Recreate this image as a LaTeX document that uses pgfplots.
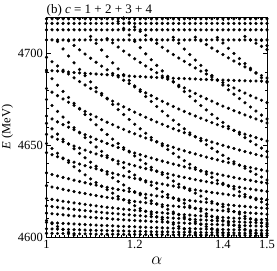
\documentclass[border=0pt]{standalone}
\usepackage{pgfplots}
\pgfplotsset{compat=1.18}
\usepackage{pgfplotstable}
\usepackage{fontspec}
\setmainfont{Liberation Serif}
\pgfplotsset{dots/.style={only marks, mark=*, mark size=1.4pt, black, mark options={draw=none, fill=black}}}
\pgfplotstableread{
a t1 t2 t3 t5
1 4719 4716.5 4713 4707.5
1.0125 4719 4716.5 4713 4707.5
1.025 4719 4716.5 4713 4707.5
1.0375 4719 4716.5 4713 4707.5
1.05 4719 4716.5 4713 4707.5
1.0625 4719 4716.5 4713 4707.5
1.075 4719 4716.5 4713 4707.5
1.0875 4719 4716.5 4713 4707.5
1.1 4719 4716.5 4713 4707.5
1.1125 4719 4716.5 4713 4707.5
1.125 4719 4716.5 4713 4707.5
1.1375 4719 4716.5 4713 4707.5
1.15 4719 4716.5 4713 4707.5
1.1625 4719 4716.5 4713 4707.5
1.175 4719 4716.5 4713 4707.5
1.1875 4719 4716.5 4713 4707.5
1.2 4719 4716.5 4713 4707.5
1.2125 4719 4716.5 4713 4707.5
1.225 4719 4716.5 4713 4707.5
1.2375 4719 4716.5 4713 4707.5
1.25 4719 4716.5 4713 4707.5
1.2625 4719 4716.5 4713 4707.5
1.275 4719 4716.5 4713 4707.5
1.2875 4719 4716.5 4713 4707.5
1.3 4719 4716.5 4713 4707.5
1.3125 4719 4716.5 4713 4707.5
1.325 4719 4716.5 4713 4707.5
1.3375 4719 4716.5 4713 4707.5
1.35 4719 4716.5 4713 4707.5
1.3625 4719 4716.5 4713 4707.5
1.375 4719 4716.5 4713 4707.5
1.3875 4719 4716.5 4713 4707.5
1.4 4719 4716.5 4713 4707.5
1.4125 4719 4716.5 4713 4707.5
1.425 4719 4716.5 4713 4707.5
1.4375 4719 4716.5 4713 4707.5
1.45 4719 4716.5 4713 4707.5
1.4625 4719 4716.5 4713 4707.5
1.475 4719 4716.5 4713 4707.5
1.4875 4719 4716.5 4713 4707.5
1.5 4719 4716.5 4713 4707.5
}\bands
\begin{document}
\begin{tikzpicture}
\begin{axis}[
  scale only axis,
  width=220.5pt, height=220pt,
  xmin=1, xmax=1.5, ymin=4600, ymax=4720,
  xtick={1,1.1,1.2,1.3,1.4,1.5},
  xticklabels={1,,1.2,,1.4,1.5},
  minor x tick num=9,
  ytick={4600,4650,4700},
  yticklabels={4600,4650,4700},
  minor y tick num=4,
  tick pos=both,
  tick align=inside,
  major tick length=4pt, minor tick length=2pt,
  every tick/.style={black, line width=0.5pt},
  axis line style={line width=0.6pt},
  tick label style={font=\fontsize{12.5}{12.5}\selectfont},
  ylabel={\textit{E} (MeV)},
  ylabel style={font=\fontsize{12.5}{12.5}\selectfont, yshift=-2pt},
  xlabel={$\alpha$},
  xlabel style={font=\fontsize{17}{17}\selectfont, yshift=-1pt},
  every axis title shift=0pt,
  title={(b) \textit{c} = 1 + 2 + 3 + 4},
  title style={at={(axis description cs:0,1)}, anchor=base west, yshift=3.5pt, inner sep=0pt, font=\fontsize{13}{13}\selectfont},
]
% flat bands
\addplot[dots] table[x=a,y=t1] {\bands};
\addplot[dots] table[x=a,y=t2] {\bands};
\addplot[dots] table[x=a,y=t3] {\bands};
\addplot[dots] table[x=a,y=t5] {\bands};
% family A
\addplot[dots] coordinates {(1,4602.0)(1.0125,4602.0)(1.025,4601.9)(1.0375,4601.9)(1.05,4601.8)(1.0625,4601.8)(1.075,4601.7)(1.0875,4601.7)(1.1,4601.7)(1.1125,4601.6)(1.125,4601.6)(1.1375,4601.5)(1.15,4601.5)(1.1625,4601.5)(1.175,4601.4)(1.1875,4601.4)(1.2,4601.4)(1.2125,4601.4)(1.225,4601.3)(1.2375,4601.3)(1.25,4601.3)(1.2625,4601.3)(1.275,4601.2)(1.2875,4601.2)(1.3,4601.2)(1.3125,4601.2)(1.325,4601.1)(1.3375,4601.1)(1.35,4601.1)(1.3625,4601.1)(1.375,4601.1)(1.3875,4601.0)(1.4,4601.0)(1.4125,4601.0)(1.425,4601.0)(1.4375,4601.0)(1.45,4601.0)(1.4625,4600.9)(1.475,4600.9)(1.4875,4600.9)(1.5,4600.9)};
\addplot[dots] coordinates {(1,4604.5)(1.0125,4604.4)(1.025,4604.3)(1.0375,4604.2)(1.05,4604.1)(1.0625,4604.0)(1.075,4603.9)(1.0875,4603.8)(1.1,4603.7)(1.1125,4603.6)(1.125,4603.6)(1.1375,4603.5)(1.15,4603.4)(1.1625,4603.3)(1.175,4603.3)(1.1875,4603.2)(1.2,4603.1)(1.2125,4603.1)(1.225,4603.0)(1.2375,4602.9)(1.25,4602.9)(1.2625,4602.8)(1.275,4602.8)(1.2875,4602.7)(1.3,4602.7)(1.3125,4602.6)(1.325,4602.6)(1.3375,4602.5)(1.35,4602.5)(1.3625,4602.4)(1.375,4602.4)(1.3875,4602.3)(1.4,4602.3)(1.4125,4602.3)(1.425,4602.2)(1.4375,4602.2)(1.45,4602.1)(1.4625,4602.1)(1.475,4602.1)(1.4875,4602.0)(1.5,4602.0)};
\addplot[dots] coordinates {(1,4608.0)(1.0125,4607.8)(1.025,4607.6)(1.0375,4607.4)(1.05,4607.3)(1.0625,4607.1)(1.075,4606.9)(1.0875,4606.8)(1.1,4606.6)(1.1125,4606.5)(1.125,4606.3)(1.1375,4606.2)(1.15,4606.1)(1.1625,4605.9)(1.175,4605.8)(1.1875,4605.7)(1.2,4605.6)(1.2125,4605.4)(1.225,4605.3)(1.2375,4605.2)(1.25,4605.1)(1.2625,4605.0)(1.275,4604.9)(1.2875,4604.8)(1.3,4604.7)(1.3125,4604.6)(1.325,4604.6)(1.3375,4604.5)(1.35,4604.4)(1.3625,4604.3)(1.375,4604.2)(1.3875,4604.2)(1.4,4604.1)(1.4125,4604.0)(1.425,4603.9)(1.4375,4603.9)(1.45,4603.8)(1.4625,4603.7)(1.475,4603.7)(1.4875,4603.6)(1.5,4603.6)};
\addplot[dots] coordinates {(1,4613.0)(1.0125,4612.7)(1.025,4612.4)(1.0375,4612.1)(1.05,4611.8)(1.0625,4611.5)(1.075,4611.3)(1.0875,4611.0)(1.1,4610.7)(1.1125,4610.5)(1.125,4610.3)(1.1375,4610.1)(1.15,4609.8)(1.1625,4609.6)(1.175,4609.4)(1.1875,4609.2)(1.2,4609.0)(1.2125,4608.8)(1.225,4608.7)(1.2375,4608.5)(1.25,4608.3)(1.2625,4608.2)(1.275,4608.0)(1.2875,4607.8)(1.3,4607.7)(1.3125,4607.6)(1.325,4607.4)(1.3375,4607.3)(1.35,4607.1)(1.3625,4607.0)(1.375,4606.9)(1.3875,4606.8)(1.4,4606.6)(1.4125,4606.5)(1.425,4606.4)(1.4375,4606.3)(1.45,4606.2)(1.4625,4606.1)(1.475,4606.0)(1.4875,4605.9)(1.5,4605.8)};
\addplot[dots] coordinates {(1,4617.0)(1.0125,4616.6)(1.025,4616.2)(1.0375,4615.8)(1.05,4615.4)(1.0625,4615.1)(1.075,4614.7)(1.0875,4614.4)(1.1,4614.1)(1.1125,4613.7)(1.125,4613.4)(1.1375,4613.1)(1.15,4612.9)(1.1625,4612.6)(1.175,4612.3)(1.1875,4612.1)(1.2,4611.8)(1.2125,4611.6)(1.225,4611.3)(1.2375,4611.1)(1.25,4610.9)(1.2625,4610.7)(1.275,4610.5)(1.2875,4610.3)(1.3,4610.1)(1.3125,4609.9)(1.325,4609.7)(1.3375,4609.5)(1.35,4609.3)(1.3625,4609.2)(1.375,4609.0)(1.3875,4608.8)(1.4,4608.7)(1.4125,4608.5)(1.425,4608.4)(1.4375,4608.2)(1.45,4608.1)(1.4625,4608.0)(1.475,4607.8)(1.4875,4607.7)(1.5,4607.6)};
\addplot[dots] coordinates {(1,4621.0)(1.0125,4620.5)(1.025,4620.0)(1.0375,4619.5)(1.05,4619.1)(1.0625,4618.6)(1.075,4618.2)(1.0875,4617.8)(1.1,4617.4)(1.1125,4617.0)(1.125,4616.6)(1.1375,4616.2)(1.15,4615.9)(1.1625,4615.5)(1.175,4615.2)(1.1875,4614.9)(1.2,4614.6)(1.2125,4614.3)(1.225,4614.0)(1.2375,4613.7)(1.25,4613.4)(1.2625,4613.2)(1.275,4612.9)(1.2875,4612.7)(1.3,4612.4)(1.3125,4612.2)(1.325,4612.0)(1.3375,4611.7)(1.35,4611.5)(1.3625,4611.3)(1.375,4611.1)(1.3875,4610.9)(1.4,4610.7)(1.4125,4610.5)(1.425,4610.3)(1.4375,4610.2)(1.45,4610.0)(1.4625,4609.8)(1.475,4609.7)(1.4875,4609.5)(1.5,4609.3)};
\addplot[dots] coordinates {(1,4628.0)(1.0125,4627.3)(1.025,4626.7)(1.0375,4626.0)(1.05,4625.4)(1.0625,4624.8)(1.075,4624.2)(1.0875,4623.7)(1.1,4623.1)(1.1125,4622.6)(1.125,4622.1)(1.1375,4621.6)(1.15,4621.2)(1.1625,4620.7)(1.175,4620.3)(1.1875,4619.9)(1.2,4619.4)(1.2125,4619.1)(1.225,4618.7)(1.2375,4618.3)(1.25,4617.9)(1.2625,4617.6)(1.275,4617.2)(1.2875,4616.9)(1.3,4616.6)(1.3125,4616.3)(1.325,4616.0)(1.3375,4615.7)(1.35,4615.4)(1.3625,4615.1)(1.375,4614.8)(1.3875,4614.5)(1.4,4614.3)(1.4125,4614.0)(1.425,4613.8)(1.4375,4613.6)(1.45,4613.3)(1.4625,4613.1)(1.475,4612.9)(1.4875,4612.7)(1.5,4612.4)};
\addplot[dots] coordinates {(1,4635.0)(1.0125,4634.1)(1.025,4633.3)(1.0375,4632.5)(1.05,4631.8)(1.0625,4631.0)(1.075,4630.3)(1.0875,4629.6)(1.1,4628.9)(1.1125,4628.3)(1.125,4627.7)(1.1375,4627.1)(1.15,4626.5)(1.1625,4625.9)(1.175,4625.4)(1.1875,4624.8)(1.2,4624.3)(1.2125,4623.8)(1.225,4623.3)(1.2375,4622.9)(1.25,4622.4)(1.2625,4622.0)(1.275,4621.5)(1.2875,4621.1)(1.3,4620.7)(1.3125,4620.3)(1.325,4619.9)(1.3375,4619.6)(1.35,4619.2)(1.3625,4618.9)(1.375,4618.5)(1.3875,4618.2)(1.4,4617.9)(1.4125,4617.5)(1.425,4617.2)(1.4375,4616.9)(1.45,4616.7)(1.4625,4616.4)(1.475,4616.1)(1.4875,4615.8)(1.5,4615.6)};
\addplot[dots] coordinates {(1,4646.0)(1.0125,4644.9)(1.025,4643.8)(1.0375,4642.7)(1.05,4641.7)(1.0625,4640.8)(1.075,4639.8)(1.0875,4638.9)(1.1,4638.0)(1.1125,4637.2)(1.125,4636.4)(1.1375,4635.6)(1.15,4634.8)(1.1625,4634.0)(1.175,4633.3)(1.1875,4632.6)(1.2,4631.9)(1.2125,4631.3)(1.225,4630.7)(1.2375,4630.0)(1.25,4629.4)(1.2625,4628.9)(1.275,4628.3)(1.2875,4627.8)(1.3,4627.2)(1.3125,4626.7)(1.325,4626.2)(1.3375,4625.7)(1.35,4625.2)(1.3625,4624.8)(1.375,4624.3)(1.3875,4623.9)(1.4,4623.5)(1.4125,4623.1)(1.425,4622.7)(1.4375,4622.3)(1.45,4621.9)(1.4625,4621.5)(1.475,4621.1)(1.4875,4620.8)(1.5,4620.4)};
\addplot[dots] coordinates {(1,4656.0)(1.0125,4654.6)(1.025,4653.3)(1.0375,4652.0)(1.05,4650.8)(1.0625,4649.6)(1.075,4648.5)(1.0875,4647.4)(1.1,4646.3)(1.1125,4645.3)(1.125,4644.3)(1.1375,4643.3)(1.15,4642.3)(1.1625,4641.4)(1.175,4640.6)(1.1875,4639.7)(1.2,4638.9)(1.2125,4638.1)(1.225,4637.3)(1.2375,4636.6)(1.25,4635.8)(1.2625,4635.1)(1.275,4634.5)(1.2875,4633.8)(1.3,4633.1)(1.3125,4632.5)(1.325,4631.9)(1.3375,4631.3)(1.35,4630.7)(1.3625,4630.2)(1.375,4629.6)(1.3875,4629.1)(1.4,4628.6)(1.4125,4628.1)(1.425,4627.6)(1.4375,4627.1)(1.45,4626.6)(1.4625,4626.2)(1.475,4625.7)(1.4875,4625.3)(1.5,4624.9)};
\addplot[dots] coordinates {(1,4666.0)(1.0125,4664.4)(1.025,4662.8)(1.0375,4661.3)(1.05,4659.9)(1.0625,4658.5)(1.075,4657.1)(1.0875,4655.8)(1.1,4654.6)(1.1125,4653.3)(1.125,4652.2)(1.1375,4651.0)(1.15,4649.9)(1.1625,4648.8)(1.175,4647.8)(1.1875,4646.8)(1.2,4645.8)(1.2125,4644.9)(1.225,4644.0)(1.2375,4643.1)(1.25,4642.2)(1.2625,4641.4)(1.275,4640.6)(1.2875,4639.8)(1.3,4639.1)(1.3125,4638.3)(1.325,4637.6)(1.3375,4636.9)(1.35,4636.2)(1.3625,4635.6)(1.375,4634.9)(1.3875,4634.3)(1.4,4633.7)(1.4125,4633.1)(1.425,4632.5)(1.4375,4631.9)(1.45,4631.4)(1.4625,4630.9)(1.475,4630.3)(1.4875,4629.8)(1.5,4629.3)};
\addplot[dots] coordinates {(1,4681.0)(1.0125,4679.0)(1.025,4677.1)(1.0375,4675.3)(1.05,4673.5)(1.0625,4671.8)(1.075,4670.1)(1.0875,4668.5)(1.1,4666.9)(1.1125,4665.5)(1.125,4664.0)(1.1375,4662.6)(1.15,4661.3)(1.1625,4659.9)(1.175,4658.7)(1.1875,4657.4)(1.2,4656.3)(1.2125,4655.1)(1.225,4654.0)(1.2375,4652.9)(1.25,4651.8)(1.2625,4650.8)(1.275,4649.8)(1.2875,4648.9)(1.3,4647.9)(1.3125,4647.0)(1.325,4646.1)(1.3375,4645.3)(1.35,4644.4)(1.3625,4643.6)(1.375,4642.8)(1.3875,4642.1)(1.4,4641.3)(1.4125,4640.6)(1.425,4639.9)(1.4375,4639.2)(1.45,4638.5)(1.4625,4637.9)(1.475,4637.2)(1.4875,4636.6)(1.5,4636.0)};
\addplot[dots] coordinates {(1,4698.0)(1.0125,4695.6)(1.025,4693.3)(1.0375,4691.0)(1.05,4688.9)(1.0625,4686.8)(1.075,4684.8)(1.0875,4682.9)(1.1,4681.0)(1.1125,4679.2)(1.125,4677.4)(1.1375,4675.7)(1.15,4674.1)(1.1625,4672.5)(1.175,4671.0)(1.1875,4669.5)(1.2,4668.1)(1.2125,4666.7)(1.225,4665.3)(1.2375,4664.0)(1.25,4662.7)(1.2625,4661.5)(1.275,4660.3)(1.2875,4659.1)(1.3,4658.0)(1.3125,4656.9)(1.325,4655.8)(1.3375,4654.8)(1.35,4653.8)(1.3625,4652.8)(1.375,4651.8)(1.3875,4650.9)(1.4,4650.0)(1.4125,4649.1)(1.425,4648.3)(1.4375,4647.4)(1.45,4646.6)(1.4625,4645.8)(1.475,4645.0)(1.4875,4644.3)(1.5,4643.6)};
\addplot[dots] coordinates {(1.05,4707.0)(1.0625,4704.5)(1.075,4702.1)(1.0875,4699.8)(1.1,4697.5)(1.1125,4695.3)(1.125,4693.2)(1.1375,4691.2)(1.15,4689.2)(1.1625,4687.3)(1.175,4685.5)(1.1875,4683.7)(1.2,4681.9)(1.2125,4680.3)(1.225,4678.6)(1.2375,4677.1)(1.25,4675.5)(1.2625,4674.0)(1.275,4672.6)(1.2875,4671.2)(1.3,4669.8)(1.3125,4668.5)(1.325,4667.2)(1.3375,4666.0)(1.35,4664.8)(1.3625,4663.6)(1.375,4662.4)(1.3875,4661.3)(1.4,4660.2)(1.4125,4659.1)(1.425,4658.1)(1.4375,4657.1)(1.45,4656.1)(1.4625,4655.2)(1.475,4654.2)(1.4875,4653.3)(1.5,4652.4)};
\addplot[dots] coordinates {(1.1375,4708.2)(1.15,4705.9)(1.1625,4703.6)(1.175,4701.4)(1.1875,4699.3)(1.2,4697.2)(1.2125,4695.2)(1.225,4693.3)(1.2375,4691.4)(1.25,4689.6)(1.2625,4687.8)(1.275,4686.1)(1.2875,4684.5)(1.3,4682.8)(1.3125,4681.3)(1.325,4679.7)(1.3375,4678.3)(1.35,4676.8)(1.3625,4675.4)(1.375,4674.1)(1.3875,4672.7)(1.4,4671.4)(1.4125,4670.2)(1.425,4668.9)(1.4375,4667.8)(1.45,4666.6)(1.4625,4665.5)(1.475,4664.4)(1.4875,4663.3)(1.5,4662.2)};
\addplot[dots] coordinates {(1.175,4719.5)(1.1875,4717.0)(1.2,4714.6)(1.2125,4712.2)(1.225,4710.0)(1.2375,4707.8)(1.25,4705.6)(1.2625,4703.5)(1.275,4701.5)(1.2875,4699.5)(1.3,4697.6)(1.3125,4695.8)(1.325,4694.0)(1.3375,4692.2)(1.35,4690.5)(1.3625,4688.9)(1.375,4687.3)(1.3875,4685.7)(1.4,4684.2)(1.4125,4682.7)(1.425,4681.3)(1.4375,4679.9)(1.45,4678.5)(1.4625,4677.1)(1.475,4675.8)(1.4875,4674.6)(1.5,4673.3)};
\addplot[dots] coordinates {(1.3375,4709.0)(1.35,4707.0)(1.3625,4705.0)(1.375,4703.1)(1.3875,4701.3)(1.4,4699.5)(1.4125,4697.7)(1.425,4696.0)(1.4375,4694.4)(1.45,4692.8)(1.4625,4691.2)(1.475,4689.6)(1.4875,4688.1)(1.5,4686.7)};
\addplot[dots] coordinates {(1.45,4709.4)(1.4625,4707.5)(1.475,4705.7)(1.4875,4704.0)(1.5,4702.2)};
% family B
\addplot[dots] coordinates {(1,4609.0)(1.0125,4607.3)(1.025,4605.7)(1.0375,4604.1)(1.05,4602.6)(1.0625,4601.1)};
\addplot[dots] coordinates {(1,4651.0)(1.0125,4648.3)(1.025,4645.7)(1.0375,4643.1)(1.05,4640.7)(1.0625,4638.3)(1.075,4636.1)(1.0875,4633.9)(1.1,4631.7)(1.1125,4629.7)(1.125,4627.7)(1.1375,4625.8)(1.15,4623.9)(1.1625,4622.1)(1.175,4620.4)(1.1875,4618.7)(1.2,4617.1)(1.2125,4615.5)(1.225,4614.0)(1.2375,4612.5)(1.25,4611.0)(1.2625,4609.6)(1.275,4608.3)(1.2875,4607.0)(1.3,4605.7)(1.3125,4604.4)(1.325,4603.2)(1.3375,4602.1)(1.35,4600.9)};
\addplot[dots] coordinates {(1,4662.0)(1.0125,4659.0)(1.025,4656.1)(1.0375,4653.3)(1.05,4650.7)(1.0625,4648.1)(1.075,4645.6)(1.0875,4643.2)(1.1,4640.8)(1.1125,4638.6)(1.125,4636.4)(1.1375,4634.3)(1.15,4632.3)(1.1625,4630.3)(1.175,4628.4)(1.1875,4626.5)(1.2,4624.7)(1.2125,4623.0)(1.225,4621.3)(1.2375,4619.7)(1.25,4618.1)(1.2625,4616.5)(1.275,4615.1)(1.2875,4613.6)(1.3,4612.2)(1.3125,4610.8)(1.325,4609.5)(1.3375,4608.2)(1.35,4606.9)(1.3625,4605.7)(1.375,4604.5)(1.3875,4603.4)(1.4,4602.2)(1.4125,4601.2)};
\addplot[dots] coordinates {(1,4675.0)(1.0125,4671.7)(1.025,4668.5)(1.0375,4665.4)(1.05,4662.5)(1.0625,4659.6)(1.075,4656.8)(1.0875,4654.2)(1.1,4651.6)(1.1125,4649.1)(1.125,4646.7)(1.1375,4644.3)(1.15,4642.1)(1.1625,4639.9)(1.175,4637.8)(1.1875,4635.7)(1.2,4633.8)(1.2125,4631.8)(1.225,4630.0)(1.2375,4628.2)(1.25,4626.4)(1.2625,4624.7)(1.275,4623.1)(1.2875,4621.4)(1.3,4619.9)(1.3125,4618.4)(1.325,4616.9)(1.3375,4615.5)(1.35,4614.1)(1.3625,4612.7)(1.375,4611.4)(1.3875,4610.1)(1.4,4608.9)(1.4125,4607.7)(1.425,4606.5)(1.4375,4605.3)(1.45,4604.2)(1.4625,4603.1)(1.475,4602.1)(1.4875,4601.0)};
\addplot[dots] coordinates {(1,4690.0)(1.0125,4686.3)(1.025,4682.8)(1.0375,4679.4)(1.05,4676.1)(1.0625,4672.9)(1.075,4669.8)(1.0875,4666.8)(1.1,4664.0)(1.1125,4661.2)(1.125,4658.5)(1.1375,4655.9)(1.15,4653.4)(1.1625,4651.0)(1.175,4648.7)(1.1875,4646.4)(1.2,4644.2)(1.2125,4642.0)(1.225,4640.0)(1.2375,4638.0)(1.25,4636.0)(1.2625,4634.1)(1.275,4632.3)(1.2875,4630.5)(1.3,4628.8)(1.3125,4627.1)(1.325,4625.4)(1.3375,4623.9)(1.35,4622.3)(1.3625,4620.8)(1.375,4619.3)(1.3875,4617.9)(1.4,4616.5)(1.4125,4615.2)(1.425,4613.9)(1.4375,4612.6)(1.45,4611.3)(1.4625,4610.1)(1.475,4609.0)(1.4875,4607.8)(1.5,4606.7)};
\addplot[dots] coordinates {(1.025,4706.6)(1.0375,4702.6)(1.05,4698.7)(1.0625,4695.0)(1.075,4691.4)(1.0875,4688.0)(1.1,4684.6)(1.1125,4681.4)(1.125,4678.3)(1.1375,4675.3)(1.15,4672.3)(1.1625,4669.5)(1.175,4666.8)(1.1875,4664.1)(1.2,4661.5)(1.2125,4659.0)(1.225,4656.6)(1.2375,4654.3)(1.25,4652.0)(1.2625,4649.8)(1.275,4647.7)(1.2875,4645.6)(1.3,4643.6)(1.3125,4641.6)(1.325,4639.7)(1.3375,4637.8)(1.35,4636.0)(1.3625,4634.3)(1.375,4632.6)(1.3875,4630.9)(1.4,4629.3)(1.4125,4627.7)(1.425,4626.2)(1.4375,4624.7)(1.45,4623.2)(1.4625,4621.8)(1.475,4620.4)(1.4875,4619.1)(1.5,4617.8)};
\addplot[dots] coordinates {(1.1,4709.4)(1.1125,4705.6)(1.125,4702.0)(1.1375,4698.4)(1.15,4695.0)(1.1625,4691.7)(1.175,4688.5)(1.1875,4685.4)(1.2,4682.4)(1.2125,4679.4)(1.225,4676.6)(1.2375,4673.9)(1.25,4671.2)(1.2625,4668.6)(1.275,4666.1)(1.2875,4663.7)(1.3,4661.3)(1.3125,4659.0)(1.325,4656.8)(1.3375,4654.6)(1.35,4652.5)(1.3625,4650.4)(1.375,4648.4)(1.3875,4646.5)(1.4,4644.6)(1.4125,4642.8)(1.425,4641.0)(1.4375,4639.2)(1.45,4637.5)(1.4625,4635.8)(1.475,4634.2)(1.4875,4632.7)(1.5,4631.1)};
\addplot[dots] coordinates {(1.1625,4717.6)(1.175,4713.8)(1.1875,4710.2)(1.2,4706.7)(1.2125,4703.3)(1.225,4699.9)(1.2375,4696.7)(1.25,4693.6)(1.2625,4690.6)(1.275,4687.6)(1.2875,4684.8)(1.3,4682.0)(1.3125,4679.3)(1.325,4676.7)(1.3375,4674.2)(1.35,4671.7)(1.3625,4669.3)(1.375,4666.9)(1.3875,4664.7)(1.4,4662.5)(1.4125,4660.3)(1.425,4658.2)(1.4375,4656.1)(1.45,4654.2)(1.4625,4652.2)(1.475,4650.3)(1.4875,4648.5)(1.5,4646.7)};
\addplot[dots] coordinates {(1.2875,4708.9)(1.3,4705.7)(1.3125,4702.5)(1.325,4699.5)(1.3375,4696.5)(1.35,4693.6)(1.3625,4690.8)(1.375,4688.1)(1.3875,4685.4)(1.4,4682.9)(1.4125,4680.3)(1.425,4677.9)(1.4375,4675.5)(1.45,4673.2)(1.4625,4670.9)(1.475,4668.7)(1.4875,4666.5)(1.5,4664.4)};
\addplot[dots] coordinates {(1.3875,4708.8)(1.4,4705.8)(1.4125,4702.9)(1.425,4700.1)(1.4375,4697.3)(1.45,4694.6)(1.4625,4692.0)(1.475,4689.4)(1.4875,4686.9)(1.5,4684.4)};
\addplot[dots] coordinates {(1.4875,4707.2)(1.5,4704.4)};
% near-flat level
\addplot[dots] coordinates {(1,4691.0)(1.0125,4690.7)(1.025,4690.5)(1.0375,4690.2)(1.05,4690.0)(1.0625,4689.7)(1.075,4689.5)(1.0875,4689.3)(1.1,4689.1)(1.1125,4688.9)(1.125,4688.7)(1.1375,4688.5)(1.15,4688.3)(1.1625,4688.1)(1.175,4688.0)(1.1875,4687.8)(1.2,4687.6)(1.2125,4687.5)(1.225,4687.3)(1.2375,4687.2)(1.25,4687.0)(1.2625,4686.9)(1.275,4686.8)(1.2875,4686.6)(1.3,4686.5)(1.3125,4686.4)(1.325,4686.3)(1.3375,4686.2)(1.35,4686.0)(1.3625,4685.9)(1.375,4685.8)(1.3875,4685.7)(1.4,4685.6)(1.4125,4685.5)(1.425,4685.4)(1.4375,4685.3)(1.45,4685.2)(1.4625,4685.1)(1.475,4685.1)(1.4875,4685.0)(1.5,4684.9)};
\end{axis}
\pgfresetboundingbox
\path[use as bounding box] ([xshift=-46.5pt,yshift=-33pt]current axis.south west) rectangle ([xshift=10pt,yshift=17pt]current axis.north east);
\end{tikzpicture}
\end{document}
